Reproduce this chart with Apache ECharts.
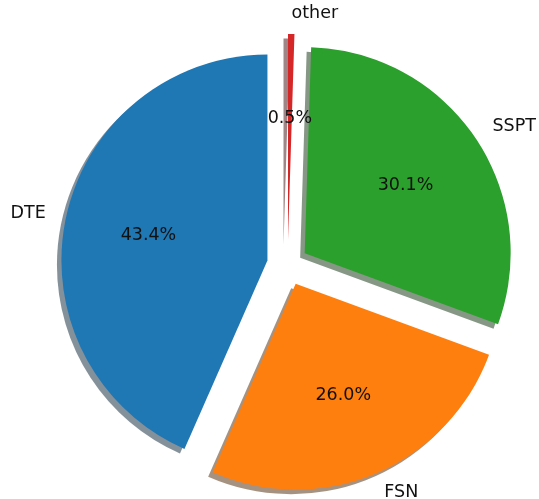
<!DOCTYPE html>
<html>
<head>
<meta charset="utf-8">
<script src="https://cdn.jsdelivr.net/npm/echarts@6/dist/echarts.min.js"></script>
<style>
  html, body { margin: 0; padding: 0; background: #fff; }
  #chart { width: 539px; height: 499px; }
</style>
</head>
<body>
<div id="chart"></div>
<script>
const labels = ['DTE', 'FSN', 'SSPT', 'other'];
const shares = [43.4, 26.0, 30.1, 0.5];
const colors = ['#1f77b4', '#ff7f0e', '#2ca02c', '#d62728'];
const explode = [0.1, 0.1, 0.1, 0.12];

const R = 206;
const CENTER = [287.6, 264.7];
const FONT = { fontFamily: 'DejaVu Sans', fontSize: 17.5, color: '#111' };

// matplotlib shadow: 0.3 * facecolor, alpha 0.5
const shadowOf = hex => {
    const n = parseInt(hex.slice(1), 16);
    const r = Math.round(((n >> 16) & 255) * 0.3);
    const g = Math.round(((n >> 8) & 255) * 0.3);
    const b = Math.round((n & 255) * 0.3);
    return `rgba(${r},${g},${b},0.5)`;
};

const groups = [...new Set(explode)];

// wedges at R, percent labels around 0.6R, names at 1.1R
const makeSeries = (ex, kind) => {
    const radius = kind === 'wedge' ? R : (kind === 'pct' ? R * 1.2 - 10 : R * 1.1);
    return {
        type: 'pie',
        center: CENTER,
        radius: radius,
        startAngle: 90,
        clockwise: false,
        animation: false,
        silent: true,
        avoidLabelOverlap: false,
        selectedMode: 'multiple',
        selectedOffset: ex * R,
        percentPrecision: 1,
        labelLine: { show: false, length: 0, length2: 0 },
        labelLayout: { hideOverlap: false, moveOverlap: null },
        data: labels.map((name, i) => {
            const on = explode[i] === ex;
            const item = {
                name: name,
                value: shares[i],
                selected: true,
                itemStyle: { color: 'rgba(0,0,0,0)', borderWidth: 0 },
                label: { show: false }
            };
            if (!on) return item;
            if (kind === 'wedge') {
                item.itemStyle = {
                    color: colors[i],
                    borderWidth: 0,
                    shadowColor: shadowOf(colors[i]),
                    shadowBlur: 0,
                    shadowOffsetX: -4.5,
                    shadowOffsetY: 4.5
                };
            } else if (kind === 'pct') {
                item.label = Object.assign({
                    show: true,
                    position: 'inside',
                    formatter: p => p.percent.toFixed(1) + '%'
                }, FONT);
            } else {
                item.label = Object.assign({
                    show: true,
                    position: 'outside',
                    distanceToLabelLine: 0,
                    formatter: '{b}'
                }, FONT);
            }
            return item;
        })
    };
};

const series = [];
['wedge', 'pct', 'name'].forEach(kind => {
    groups.forEach(ex => series.push(makeSeries(ex, kind)));
});

const chart = echarts.init(document.getElementById('chart'));
chart.setOption({
    backgroundColor: '#fff',
    animation: false,
    series: series
});
</script>
</body>
</html>
